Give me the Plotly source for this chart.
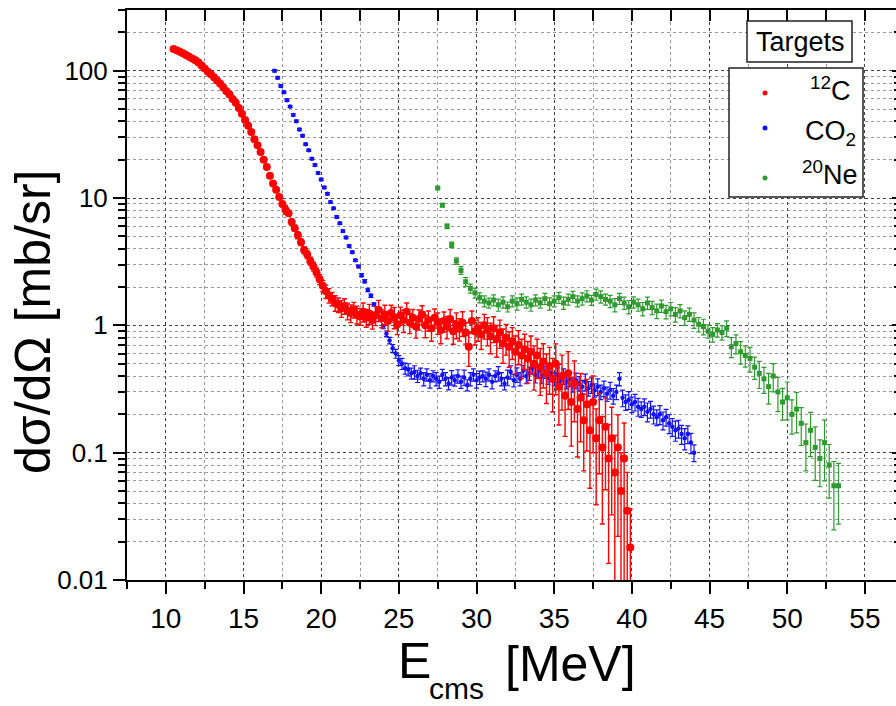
import math
import plotly.graph_objects as go

# ---- 12C target ----
c12_energy = [
    10.5, 10.7, 10.9, 11.1, 11.3, 11.5, 11.7, 11.9, 12.1, 12.3,
    12.5, 12.7, 12.9, 13.1, 13.3, 13.5, 13.7, 13.9, 14.1, 14.3,
    14.5, 14.7, 14.9, 15.1, 15.3, 15.5, 15.7, 15.9, 16.1, 16.3,
    16.5, 16.7, 16.9, 17.1, 17.3, 17.5, 17.7, 17.9, 18.1, 18.3,
    18.5, 18.7, 18.9, 19.1, 19.3, 19.5, 19.7, 19.9, 20.1,
    20.3, 20.5, 20.7, 20.9, 21.1, 21.3, 21.5, 21.7, 21.9, 22.1,
    22.3, 22.5, 22.7, 22.9, 23.1, 23.3, 23.5, 23.7, 23.9, 24.1,
    24.3, 24.5, 24.7, 24.9, 25.1, 25.3, 25.5, 25.7, 25.9, 26.1,
    26.3, 26.5, 26.7, 26.9, 27.1, 27.3, 27.5, 27.7, 27.9, 28.1,
    28.3, 28.5, 28.7, 28.9, 29.1, 29.3, 29.5, 29.7, 29.9, 30.1,
    30.3, 30.5, 30.7, 30.9, 31.1, 31.3, 31.5, 31.7, 31.9, 32.1,
    32.3, 32.5, 32.7, 32.9, 33.1, 33.3, 33.5, 33.7, 33.9, 34.1,
    34.3, 34.5, 34.7, 34.9, 35.1, 35.3, 35.5, 35.7, 35.9, 36.1,
    36.3, 36.5, 36.7, 36.9, 37.1, 37.3, 37.5, 37.7, 37.9, 38.1,
    38.3, 38.5, 38.7, 38.9, 39.1, 39.3, 39.5, 39.7, 39.9,
]
c12_xsec = [
    148, 145, 141, 137, 133, 129, 125, 121, 116, 110,
    104, 98, 94, 89, 84, 79, 74, 69, 65, 60,
    56, 51, 46, 41, 37, 33, 29, 26, 23, 20,
    17.5, 15, 13, 11.6, 10.2, 9.0, 8.1, 7.6, 6.5, 5.8,
    5.1, 4.5, 3.9, 3.6, 3.2, 2.9, 2.6, 2.3, 2.05,
    1.85, 1.72, 1.62, 1.5, 1.45, 1.36, 1.42, 1.3, 1.25, 1.33,
    1.22, 1.18, 1.28, 1.15, 1.24, 1.1, 1.2, 1.32, 1.14, 1.22,
    1.08, 1.25, 1.16, 1.02, 1.2, 1.1, 1.28, 1.05, 1.15, 0.98,
    1.12, 1.22, 1.0, 1.1, 0.95, 1.15, 1.05, 0.92, 1.08, 0.98,
    1.12, 0.9, 1.02, 0.94, 1.05, 0.88, 0.68, 1.08, 0.9, 0.95,
    0.85, 1.0, 0.92, 0.82, 0.95, 0.78, 0.88, 0.72, 0.8, 0.68,
    0.75, 0.62, 0.7, 0.58, 0.65, 0.55, 0.62, 0.5, 0.58, 0.47,
    0.52, 0.42, 0.48, 0.38, 0.5, 0.33, 0.4, 0.28, 0.42, 0.25,
    0.35, 0.22, 0.27, 0.18, 0.24, 0.15, 0.25, 0.13, 0.18, 0.11,
    0.16, 0.09, 0.13, 0.07, 0.11, 0.05, 0.09, 0.035, 0.018,
]
c12_rel_err = [
    0.02, 0.02, 0.02, 0.02, 0.02, 0.02, 0.02, 0.02, 0.02, 0.02,
    0.02, 0.02, 0.02, 0.02, 0.02, 0.02, 0.02, 0.02, 0.02, 0.02,
    0.02, 0.02, 0.02, 0.02, 0.025, 0.025, 0.025, 0.03, 0.03, 0.03,
    0.03, 0.035, 0.035, 0.04, 0.04, 0.045, 0.08, 0.05, 0.05, 0.055,
    0.06, 0.06, 0.065, 0.07, 0.07, 0.08, 0.08, 0.09, 0.1,
    0.12, 0.13, 0.12, 0.14, 0.13, 0.15, 0.14, 0.15, 0.16, 0.14,
    0.16, 0.15, 0.17, 0.16, 0.18, 0.15, 0.17, 0.19, 0.16, 0.18,
    0.17, 0.15, 0.19, 0.17, 0.16, 0.2, 0.17, 0.18, 0.16, 0.19,
    0.18, 0.17, 0.2, 0.18, 0.21, 0.17, 0.19, 0.22, 0.18, 0.2,
    0.19, 0.21, 0.23, 0.2, 0.22, 0.19, 0.3, 0.2, 0.22, 0.21,
    0.24, 0.22, 0.25, 0.27, 0.23, 0.28, 0.25, 0.3, 0.27, 0.31,
    0.28, 0.33, 0.3, 0.34, 0.31, 0.36, 0.33, 0.38, 0.34, 0.4,
    0.38, 0.42, 0.4, 0.45, 0.43, 0.5, 0.46, 0.52, 0.48, 0.55,
    0.5, 0.58, 0.55, 0.6, 0.57, 0.65, 0.6, 0.7, 0.62, 0.75,
    0.68, 0.85, 0.75, 0.95, 0.8, 1.0, 0.9, 1.0, 1.0,
]

# ---- CO2 target ----
co2_energy = [
    17.0, 17.2, 17.4, 17.6, 17.8, 18.0, 18.2, 18.4, 18.6, 18.8,
    19.0, 19.2, 19.4, 19.6, 19.8, 20.0, 20.2, 20.4, 20.6, 20.8,
    21.0, 21.2, 21.4, 21.6, 21.8, 22.0, 22.2, 22.4, 22.6, 22.8,
    23.0, 23.2, 23.4, 23.6, 23.8, 24.0,
    24.2, 24.4, 24.6, 24.8, 25.0, 25.2, 25.4, 25.6, 25.8, 26.0,
    26.2, 26.4, 26.6, 26.8, 27.0, 27.2, 27.4, 27.6, 27.8, 28.0,
    28.2, 28.4, 28.6, 28.8, 29.0, 29.2, 29.4, 29.6, 29.8, 30.0,
    30.2, 30.4, 30.6, 30.8, 31.0, 31.2, 31.4, 31.6, 31.8, 32.0,
    32.2, 32.4, 32.6, 32.8, 33.0, 33.2, 33.4, 33.6, 33.8, 34.0,
    34.2, 34.4, 34.6, 34.8, 35.0, 35.2, 35.4, 35.6, 35.8, 36.0,
    36.2, 36.4, 36.6, 36.8, 37.0, 37.2, 37.4, 37.6, 37.8, 38.0,
    38.2, 38.4, 38.6, 38.8, 39.0, 39.2, 39.4, 39.6, 39.8, 40.0,
    40.2, 40.4, 40.6, 40.8, 41.0, 41.2, 41.4, 41.6, 41.8, 42.0,
    42.2, 42.4, 42.6, 42.8, 43.0, 43.2, 43.4, 43.6, 43.8, 44.0,
]
co2_xsec = [
    100, 88, 76, 67.8, 58.6, 52.3, 45, 40.2, 34.6, 30.9,
    26.5, 23.7, 20.4, 18.2, 15.7, 14.0, 12.1, 10.8, 9.3, 8.3,
    7.1, 6.35, 5.5, 4.9, 4.2, 3.76, 3.24, 2.9, 2.48, 2.22,
    1.9, 1.71, 1.46, 1.31, 1.12, 0.98,
    0.86, 0.76, 0.66, 0.6, 0.53, 0.5, 0.46, 0.45, 0.42, 0.43,
    0.4, 0.42, 0.38, 0.41, 0.37, 0.4, 0.38, 0.36, 0.41, 0.38,
    0.35, 0.39, 0.37, 0.4, 0.36, 0.39, 0.34, 0.38, 0.41, 0.37,
    0.39, 0.4, 0.38, 0.41, 0.36, 0.4, 0.42, 0.38, 0.35, 0.39,
    0.43, 0.37, 0.41, 0.38, 0.44, 0.4, 0.42, 0.46, 0.41, 0.44,
    0.4, 0.43, 0.39, 0.42, 0.38, 0.41, 0.37, 0.4, 0.36, 0.38,
    0.34, 0.37, 0.35, 0.33, 0.36, 0.32, 0.34, 0.31, 0.33, 0.3,
    0.32, 0.29, 0.31, 0.28, 0.3, 0.38, 0.27, 0.25, 0.26, 0.24,
    0.25, 0.23, 0.22, 0.23, 0.21, 0.22, 0.2, 0.19, 0.2, 0.18,
    0.19, 0.17, 0.16, 0.15, 0.155, 0.14, 0.13, 0.14, 0.12, 0.1,
]
co2_rel_err = [
    0.02, 0.02, 0.02, 0.02, 0.02, 0.02, 0.02, 0.02, 0.02, 0.02,
    0.02, 0.02, 0.02, 0.02, 0.02, 0.02, 0.02, 0.02, 0.02, 0.02,
    0.02, 0.02, 0.02, 0.02, 0.02, 0.02, 0.02, 0.02, 0.03, 0.03,
    0.03, 0.03, 0.03, 0.04, 0.04, 0.04,
    0.05, 0.06, 0.07, 0.08, 0.09, 0.1, 0.1, 0.11, 0.1, 0.12,
    0.11, 0.1, 0.12, 0.11, 0.13, 0.1, 0.12, 0.11, 0.1, 0.12,
    0.11, 0.13, 0.1, 0.12, 0.11, 0.14, 0.1, 0.12, 0.11, 0.13,
    0.12, 0.1, 0.13, 0.11, 0.12, 0.1, 0.13, 0.12, 0.11, 0.14,
    0.12, 0.11, 0.13, 0.12, 0.1, 0.13, 0.12, 0.11, 0.14, 0.12,
    0.13, 0.11, 0.12, 0.14, 0.12, 0.13, 0.11, 0.14, 0.12, 0.13,
    0.12, 0.14, 0.13, 0.12, 0.15, 0.13, 0.14, 0.12, 0.15, 0.13,
    0.14, 0.13, 0.15, 0.14, 0.13, 0.12, 0.15, 0.14, 0.16, 0.14,
    0.15, 0.16, 0.14, 0.15, 0.17, 0.15, 0.16, 0.14, 0.17, 0.16,
    0.15, 0.17, 0.16, 0.18, 0.16, 0.17, 0.19, 0.16, 0.18, 0.15,
]

# ---- 20Ne target ----
ne20_energy = [
    27.5, 27.8, 28.1, 28.4, 28.7, 29.0, 29.3, 29.6, 29.9, 30.2,
    30.5, 30.8, 31.1, 31.4, 31.7, 32.0, 32.3, 32.6, 32.9, 33.2,
    33.5, 33.8, 34.1, 34.4, 34.7, 35.0, 35.3, 35.6, 35.9, 36.2,
    36.5, 36.8, 37.1, 37.4, 37.7, 38.0, 38.3, 38.6, 38.9, 39.2,
    39.5, 39.8, 40.1, 40.4, 40.7, 41.0, 41.3, 41.6, 41.9, 42.2,
    42.5, 42.8, 43.1, 43.4, 43.7, 44.0, 44.3, 44.6, 44.9, 45.2,
    45.5, 45.8, 46.1, 46.4, 46.7, 47.0, 47.3, 47.6, 47.9, 48.2,
    48.5, 48.8, 49.1, 49.4, 49.7, 50.0, 50.3, 50.6, 50.9, 51.2,
    51.5, 51.8, 52.1, 52.4, 52.7, 53.0, 53.3,
]
ne20_xsec = [
    12, 8.8, 6.0, 4.3, 3.2, 2.7, 2.2, 1.95, 1.8, 1.65,
    1.55, 1.5, 1.58, 1.45, 1.52, 1.4, 1.55, 1.48, 1.6, 1.52,
    1.45, 1.58, 1.5, 1.62, 1.48, 1.55, 1.65, 1.5, 1.6, 1.68,
    1.55, 1.62, 1.7, 1.58, 1.75, 1.68, 1.6, 1.55, 1.45, 1.62,
    1.5, 1.4, 1.52, 1.45, 1.35, 1.5, 1.38, 1.3, 1.42, 1.28,
    1.35, 1.22, 1.3, 1.15, 1.22, 1.1, 1.02, 0.98, 0.9, 0.85,
    0.92, 0.88, 0.95, 0.68, 0.72, 0.62, 0.58, 0.55, 0.47, 0.42,
    0.38, 0.33, 0.4, 0.3, 0.25, 0.27, 0.2, 0.22, 0.17, 0.12,
    0.15, 0.11, 0.09, 0.12, 0.08, 0.055, 0.055,
]
ne20_rel_err = [
    0.02, 0.03, 0.04, 0.05, 0.06, 0.07, 0.08, 0.08, 0.09, 0.09,
    0.1, 0.09, 0.1, 0.11, 0.1, 0.09, 0.1, 0.11, 0.1, 0.1,
    0.11, 0.1, 0.09, 0.1, 0.11, 0.1, 0.1, 0.11, 0.1, 0.1,
    0.1, 0.11, 0.1, 0.09, 0.1, 0.11, 0.1, 0.11, 0.12, 0.1,
    0.11, 0.12, 0.1, 0.11, 0.12, 0.11, 0.12, 0.13, 0.11, 0.12,
    0.12, 0.13, 0.12, 0.13, 0.12, 0.14, 0.13, 0.14, 0.12, 0.13,
    0.12, 0.13, 0.14, 0.18, 0.17, 0.2, 0.19, 0.22, 0.2, 0.24,
    0.23, 0.27, 0.25, 0.3, 0.28, 0.33, 0.3, 0.35, 0.33, 0.4,
    0.38, 0.45, 0.4, 0.5, 0.45, 0.55, 0.5,
]

assert len(c12_energy) == len(c12_xsec) == len(c12_rel_err)
assert len(co2_energy) == len(co2_xsec) == len(co2_rel_err)
assert len(ne20_energy) == len(ne20_xsec) == len(ne20_rel_err)

RED = "#ff0000"
BLUE = "#1010ff"
GREEN = "#2f9a2f"
TICK_FONT = "Liberation Sans Narrow, Arial Narrow, Liberation Sans, Arial, sans-serif"
TEXT_FONT = "Liberation Sans, Arial, sans-serif"

X_RANGE = [7.5, 57.0]
Y_RANGE = [-2, math.log10(300)]

# page geometry of the plotting area (pixels)
W, H = 896, 706
L, T, B = 127, 10, 126
PW, PH = W - L, H - T - B


def px(xp):
    return (xp - L) / PW


def py(yp):
    return (H - B - yp) / PH


def abs_err(vals, rel):
    return [v * r for v, r in zip(vals, rel)]


fig = go.Figure()


def add_series(energy, xsec, rel, color, size, symbol, thickness):
    fig.add_trace(go.Scatter(
        x=energy, y=xsec, mode="markers",
        marker=dict(color=color, size=size, symbol=symbol, line=dict(width=0)),
        error_y=dict(type="data", array=abs_err(xsec, rel), color=color,
                     thickness=thickness, width=2.5),
        showlegend=False,
    ))


add_series(ne20_energy, ne20_xsec, ne20_rel_err, GREEN, 5, "square", 1.2)
add_series(co2_energy, co2_xsec, co2_rel_err, BLUE, 4.5, "circle", 1.2)
add_series(c12_energy, c12_xsec, c12_rel_err, RED, 8, "circle", 1.4)

# carrier for the mirrored top/right axes
fig.add_trace(go.Scatter(x=[None], y=[None], xaxis="x2", yaxis="y2",
                         showlegend=False, hoverinfo="skip"))

axis_common = dict(
    showline=True, linewidth=2, linecolor="black",
    ticks="outside", tickwidth=2, tickcolor="black",
    zeroline=False,
)

fig.update_layout(
    width=W, height=H,
    margin=dict(l=L, r=0, t=T, b=B, pad=0),
    plot_bgcolor="white", paper_bgcolor="white",
    font=dict(family=TICK_FONT, color="black"),
    xaxis=dict(
        range=X_RANGE, dtick=5, tick0=0, ticklen=12,
        tickfont=dict(size=28, family=TICK_FONT),
        showgrid=True, gridcolor="#444444", griddash="dot", gridwidth=1,
        minor=dict(dtick=2.5, tick0=0, ticks="outside", ticklen=7, tickwidth=2,
                   tickcolor="black", showgrid=True, gridcolor="#999999",
                   griddash="dot", gridwidth=1),
        **axis_common,
    ),
    yaxis=dict(
        type="log", range=Y_RANGE, dtick=1, ticklen=12,
        tickfont=dict(size=26, family=TEXT_FONT),
        showgrid=True, gridcolor="#444444", griddash="dot", gridwidth=1,
        minor=dict(dtick="D1", ticks="outside", ticklen=7, tickwidth=2,
                   tickcolor="black", showgrid=True, gridcolor="#999999",
                   griddash="dot", gridwidth=1),
        **axis_common,
    ),
    xaxis2=dict(
        overlaying="x", side="top", anchor="y", range=X_RANGE, dtick=5, tick0=0,
        ticks="inside", ticklen=11, tickwidth=2, tickcolor="black",
        showticklabels=False, showline=True, linewidth=2, linecolor="black",
        showgrid=False, zeroline=False,
        minor=dict(dtick=2.5, tick0=0, ticks="inside", ticklen=11, tickwidth=2,
                   tickcolor="black", showgrid=False),
    ),
    yaxis2=dict(
        overlaying="y", side="right", anchor="x", type="log", range=Y_RANGE,
        dtick=1, ticks="inside", ticklen=4, tickwidth=2, tickcolor="black",
        showticklabels=False, showline=False, showgrid=False, zeroline=False,
        minor=dict(dtick="D1", ticks="inside", ticklen=2, tickwidth=2,
                   tickcolor="black", showgrid=False),
    ),
)

# axis titles
fig.add_annotation(text="dσ/dΩ [mb/sr]", textangle=-90, xref="paper", yref="paper",
                   x=px(33), y=py(322), xanchor="center", yanchor="middle",
                   showarrow=False, font=dict(size=50, family=TEXT_FONT))
fig.add_annotation(text="E", xref="paper", yref="paper", x=px(414), y=py(661),
                   xanchor="center", yanchor="middle", showarrow=False,
                   font=dict(size=50, family=TICK_FONT))
fig.add_annotation(text="cms", xref="paper", yref="paper", x=px(456), y=py(688),
                   xanchor="center", yanchor="middle", showarrow=False,
                   font=dict(size=30, family=TICK_FONT))
fig.add_annotation(text="[MeV]", xref="paper", yref="paper", x=px(570), y=py(664),
                   xanchor="center", yanchor="middle", showarrow=False,
                   font=dict(size=50, family=TICK_FONT))

# legend: title box and entry box
box_line = dict(color="#222222", width=1.5)
fig.add_shape(type="rect", xref="paper", yref="paper", layer="above",
              x0=px(747), x1=px(852), y0=py(62), y1=py(21),
              fillcolor="white", line=box_line)
fig.add_shape(type="rect", xref="paper", yref="paper", layer="above",
              x0=px(729), x1=px(863), y0=py(197), y1=py(68),
              fillcolor="white", line=box_line)
fig.add_annotation(text="Targets", xref="paper", yref="paper", x=px(800), y=py(42),
                   xanchor="center", yanchor="middle", showarrow=False,
                   font=dict(size=27, family=TEXT_FONT))

legend_rows = [
    ("<sup>12</sup>C", RED, 93, 89),
    ("CO<sub>2</sub>", BLUE, 128, 133),
    ("<sup>20</sup>Ne", GREEN, 178, 173),
]
for label, color, marker_y, text_y in legend_rows:
    fig.add_shape(type="circle", xref="paper", yref="paper", layer="above",
                  xsizemode="pixel", ysizemode="pixel",
                  xanchor=px(765), yanchor=py(marker_y),
                  x0=-2.5, x1=2.5, y0=-2.5, y1=2.5,
                  fillcolor=color, line=dict(width=0))
    fig.add_annotation(text=label, xref="paper", yref="paper", x=px(830), y=py(text_y),
                       xanchor="center", yanchor="middle", showarrow=False,
                       font=dict(size=27, family=TEXT_FONT))

fig.write_html("out.html")
